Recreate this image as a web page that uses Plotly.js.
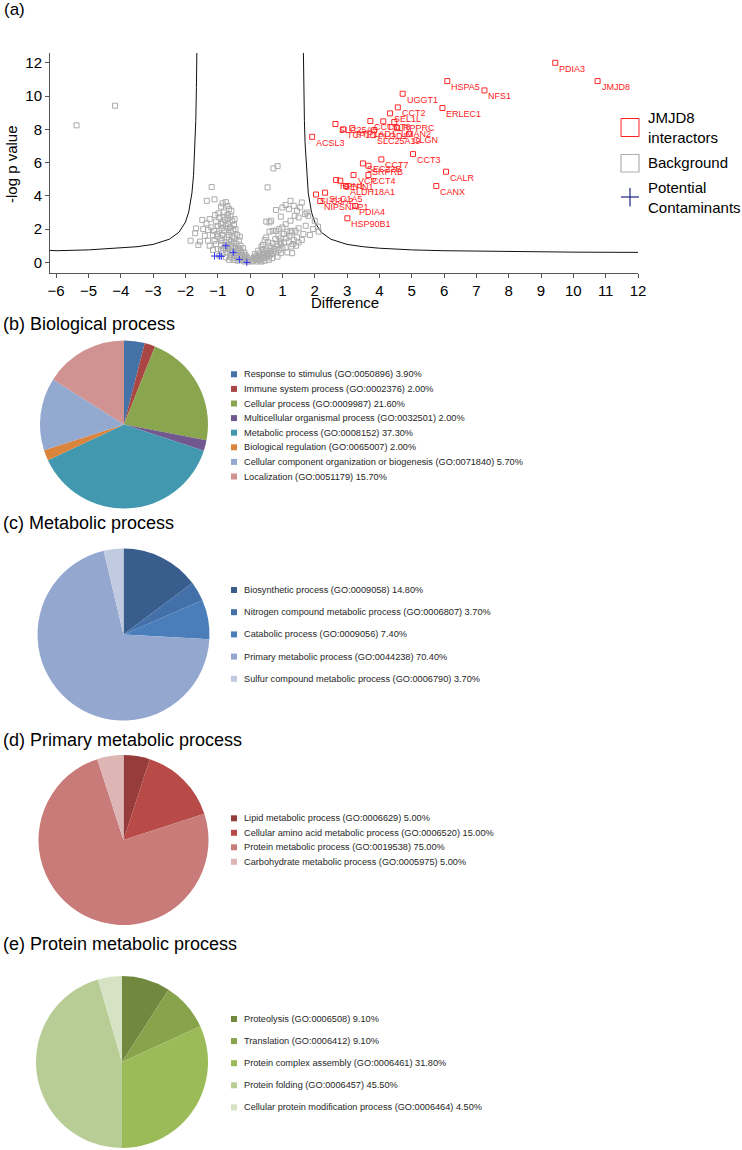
<!DOCTYPE html>
<html><head><meta charset="utf-8">
<script src="https://cdn.plot.ly/plotly-3.0.1.min.js"></script>
<style>html,body{margin:0;padding:0;background:#fff}</style>
</head><body><div id="chart" style="width:742px;height:1150px"></div>
<script>
// ---------- (a) volcano data ----------
const interactorLabels = ["PDIA3","JMJD8","HSPA5","NFS1","UGGT1","CCT2","ERLEC1","SEL1L","SLC25A5","CCT5","CCT8","LRPPRC","TCP1","PTPLAD1","PLOD1","LMAN2","SLC25A19","CLGN","ACSL3","CCT3","CCT7","SEC22B","SRPRB","VCP","CCT4","RPN1","SEPN1","ALDH18A1","CALR","CANX","SLC1A5","SLC3A2","NIPSNAP1","PDIA4","HSP90B1"];
const interactorX = [9.44,10.75,6.10,7.25,4.72,4.57,5.95,4.33,2.64,3.72,4.12,4.46,2.88,3.16,3.84,4.55,3.81,4.92,1.92,5.04,4.06,3.49,3.66,3.20,3.66,2.66,2.79,2.97,6.06,5.76,2.32,2.04,2.17,3.25,3.01];
const interactorY = [12.00,10.90,10.90,10.34,10.14,9.32,9.28,8.96,8.32,8.50,8.48,8.44,8.00,8.07,7.95,8.07,7.65,7.71,7.55,6.51,6.19,5.95,5.81,5.25,5.25,4.95,4.91,4.59,5.45,4.59,4.19,4.08,3.69,3.39,2.65];

const backgroundX = [-5.37,-4.18,0.72,0.85,0.54,-1.19,-1.34,-1.10,
-0.85,-0.75,-0.90,-0.65,-0.80,-0.70,-0.95,-0.60,-0.55,-0.78,-0.90,-1.05,-1.25,-1.35,-1.20,-1.45,-1.67,-1.84,-1.55,-1.25,-1.10,-1.00,-0.85,-0.95,-0.70,-0.60,-0.50,-0.45,-0.40,-0.55,-0.65,-0.75,-0.90,-1.00,-1.15,-1.30,-1.40,-1.05,-0.80,-0.60,-0.50,-0.35,-0.30,-0.45,-0.55,-0.70,-0.85,-0.40,-0.30,-0.25,-0.20,-0.35,-0.50,-0.15,-0.10,-0.05,-0.20,-0.30,-0.12,-0.60,-0.72,-0.62,-0.88,-1.15,-1.60,-0.95,-0.75,-0.62,-0.48,-0.38,-0.28,-0.22,-0.42,-0.52,-0.68,-0.82,-0.58,-0.70,-1.00,-1.12,-0.98,-0.32,-0.18,-0.08,
-1.70,-1.48,-1.30,-0.90,-0.65,-0.55,-0.42,-0.15,-0.35,-0.48,-0.80,-0.58,-0.66,
-0.45,-0.52,-0.38,-0.25,-0.18,-0.30,-0.42,-0.58,-0.68,-0.78,-0.88,-0.72,-0.62,-0.92,-1.02,-0.48,-0.75,-0.85,-0.68,-1.08,
0.05,0.10,0.15,0.20,0.25,0.30,0.35,0.20,0.12,0.40,0.45,0.50,0.55,0.60,0.30,0.25,0.38,0.50,0.62,0.70,0.75,0.80,0.85,0.90,0.95,1.00,1.05,1.10,1.20,1.28,1.35,1.45,1.50,0.40,0.55,0.60,0.70,0.78,0.88,0.95,1.05,1.15,1.25,1.30,1.40,0.60,0.70,0.80,0.50,0.45,0.90,1.00,1.10,1.25,1.38,1.45,1.55,1.60,1.35,1.20,1.10,1.25,1.00,0.95,0.80,0.65,0.60,0.50,1.50,1.70,1.72,1.80,1.75,1.95,2.00,2.10,2.12,1.85,1.65,1.50,0.68,0.85,0.45,0.35,0.58,1.15,0.95,1.30,
0.08,0.18,0.28,0.32,0.42,0.52,0.65,0.72,0.82,0.92,1.12,1.22,1.32,0.15,0.22,1.42,1.60,0.35];
const backgroundY = [8.24,9.42,5.65,5.79,4.51,4.53,3.70,3.79,
3.55,3.62,3.35,3.20,3.00,2.85,2.70,2.75,2.50,2.55,2.30,2.45,2.60,2.35,2.10,2.00,2.04,1.30,1.25,1.00,1.30,1.55,1.65,1.90,2.05,1.85,2.25,2.00,1.65,1.55,1.35,1.20,1.05,0.80,0.75,1.30,1.60,1.10,0.85,0.95,1.20,1.30,1.00,0.85,0.70,0.60,0.55,0.55,0.70,0.45,0.30,0.30,0.40,0.20,0.10,0.05,0.12,0.15,0.35,1.10,1.50,2.10,2.05,1.65,1.05,0.40,0.30,0.35,0.15,0.10,0.60,0.85,1.10,1.90,2.30,2.75,3.10,3.40,2.20,1.90,2.95,1.55,0.60,0.25,
1.75,2.55,1.95,0.70,0.15,0.25,0.40,0.45,0.85,1.45,1.90,1.25,1.65,
0.65,0.95,0.75,0.25,0.05,0.40,0.28,0.55,0.80,1.00,1.30,0.95,0.70,1.45,1.70,2.60,2.20,2.40,2.65,2.85,
0.05,0.10,0.20,0.15,0.30,0.20,0.35,0.40,0.30,0.25,0.45,0.30,0.55,0.40,0.55,0.70,0.80,0.70,0.65,0.50,0.80,0.60,0.95,0.75,1.10,0.85,1.20,0.90,1.25,0.95,1.35,1.50,1.20,1.05,1.20,1.00,1.15,1.40,1.60,1.45,1.70,1.85,1.90,1.80,1.90,1.85,1.90,1.90,1.50,1.35,2.00,2.10,2.30,2.50,2.80,3.10,3.30,3.60,3.40,3.20,3.45,3.70,3.30,2.75,3.15,2.50,2.40,2.45,2.70,2.90,2.20,2.80,3.00,2.00,2.50,2.15,1.85,1.65,1.70,2.05,0.25,0.35,0.10,0.05,0.15,0.60,0.55,0.55,
0.18,0.25,0.42,0.12,0.60,0.50,0.85,0.70,1.10,1.25,1.45,1.60,1.10,0.50,0.05,1.00,1.35,0.95];

const contaminantX = [-1.10,-0.95,-0.89,-0.75,-0.52,-0.33,-0.10];
const contaminantY = [0.38,0.38,0.36,1.00,0.60,0.18,0.00];

const thresholdLeftX = [-6.19,-6.00,-5.00,-4.00,-3.50,-3.00,-2.50,-2.20,-2.00,-1.90,-1.80,-1.75,-1.70,-1.68,-1.66,-1.65,-1.64];
const thresholdLeftY = [0.72,0.70,0.75,0.85,0.94,1.08,1.39,1.81,2.42,3.02,4.16,5.23,7.19,8.52,10.52,11.95,13.85];
const thresholdRightX = [1.64,1.65,1.66,1.68,1.70,1.75,1.80,1.90,2.00,2.20,2.50,3.00,3.50,4.00,5.00,6.00,8.00,10.00,12.00];
const thresholdRightY = [13.85,11.95,10.52,8.52,7.19,5.23,4.16,3.02,2.42,1.81,1.39,1.08,0.94,0.85,0.75,0.70,0.645,0.615,0.60];

const xTickVals = [-6,-5,-4,-3,-2,-1,0,1,2,3,4,5,6,7,8,9,10,11,12];
const yTickVals = [0,2,4,6,8,10,12];
const volcanoLegend = ["JMJD8<br>interactors","Background","Potential<br>Contaminants"];

// ---------- pie data ----------
const bioLabels = ["Response to stimulus (GO:0050896) 3.90%","Immune system process (GO:0002376) 2.00%","Cellular process (GO:0009987) 21.60%","Multicellular organismal process (GO:0032501) 2.00%","Metabolic process (GO:0008152) 37.30%","Biological regulation (GO:0065007) 2.00%","Cellular component organization or biogenesis (GO:0071840) 5.70%","Localization (GO:0051179) 15.70%"];
const bioValues = [3.9,2.0,21.6,2.0,37.3,2.0,13.7,15.7];
const metLabels = ["Biosynthetic process (GO:0009058) 14.80%","Nitrogen compound metabolic process (GO:0006807) 3.70%","Catabolic process (GO:0009056) 7.40%","Primary metabolic process (GO:0044238) 70.40%","Sulfur compound metabolic process (GO:0006790) 3.70%"];
const metValues = [14.8,3.7,7.4,70.4,3.7];
const primLabels = ["Lipid metabolic process (GO:0006629) 5.00%","Cellular amino acid metabolic process (GO:0006520) 15.00%","Protein metabolic process (GO:0019538) 75.00%","Carbohydrate metabolic process (GO:0005975) 5.00%"];
const primValues = [5,15,75,5];
const protLabels = ["Proteolysis (GO:0006508) 9.10%","Translation (GO:0006412) 9.10%","Protein complex assembly (GO:0006461) 31.80%","Protein folding (GO:0006457) 45.50%","Cellular protein modification process (GO:0006464) 4.50%"];
const protValues = [9.1,9.1,31.8,45.5,4.5];

// ---------- styles ----------
const W = 742, H = 1150;
const FONT = "Liberation Sans, Arial, sans-serif";
const px = v => v / W;
const py = v => 1 - v / H;

const bioColors = ["#4572A7","#AA4643","#89A54E","#71588F","#4198AF","#DB843D","#93A9CF","#D19392"];
const metColors = ["#395E8D","#4370A8","#4A7EBB","#94A8CF","#C0CBE1"];
const primColors = ["#963C3A","#B84A47","#C97B7A","#DDB5B4"];
const protColors = ["#71893F","#87A34B","#9BBB59","#B8CD96","#D6E2C4"];

const pies = [
  {title:"(b) Biological process", titleY:324, labels:bioLabels, values:bioValues, colors:bioColors, cx:124, cy:424.5, r:84, legY0:374.3, legStep:14.6},
  {title:"(c) Metabolic process", titleY:523, labels:metLabels, values:metValues, colors:metColors, cx:123.5, cy:634.5, r:86, legY0:590, legStep:22.2},
  {title:"(d) Primary metabolic process", titleY:740, labels:primLabels, values:primValues, colors:primColors, cx:123.5, cy:840, r:85, legY0:818.3, legStep:14.5},
  {title:"(e) Protein metabolic process", titleY:944, labels:protLabels, values:protValues, colors:protColors, cx:122, cy:1062, r:86, legY0:1019, legStep:22.1}
];

const traces = [];
traces.push({type:"scatter", mode:"lines", x:thresholdLeftX, y:thresholdLeftY, line:{color:"#111", width:1}, hoverinfo:"skip", showlegend:false});
traces.push({type:"scatter", mode:"lines", x:thresholdRightX, y:thresholdRightY, line:{color:"#111", width:1}, hoverinfo:"skip", showlegend:false});
traces.push({type:"scatter", mode:"markers", x:backgroundX, y:backgroundY, marker:{symbol:"square-open", size:5, color:"#ababab", line:{width:1}}, showlegend:false});
traces.push({type:"scatter", mode:"markers", x:contaminantX, y:contaminantY, marker:{symbol:"cross-thin-open", size:5, color:"#3333ff", line:{width:1, color:"#3333ff"}}, showlegend:false});
traces.push({type:"scatter", mode:"markers", x:interactorX, y:interactorY, marker:{symbol:"square-open", size:5, color:"#ff2a2a", line:{width:1}}, showlegend:false});

pies.forEach(p => {
  traces.push({type:"pie", values:p.values, labels:p.labels, sort:false, direction:"clockwise", rotation:0,
    marker:{colors:p.colors, line:{width:0}}, textinfo:"none", hoverinfo:"label", showlegend:false,
    domain:{x:[px(p.cx-p.r), px(p.cx+p.r)], y:[py(p.cy+p.r), py(p.cy-p.r)]}});
});

const annotations = [];
const shapes = [];
// point labels
interactorLabels.forEach((lab,i) => {
  annotations.push({x:interactorX[i], y:interactorY[i], xref:"x", yref:"y", text:lab, showarrow:false,
    xanchor:"left", yanchor:"middle", xshift:2, yshift:-6, font:{family:FONT, size:9, color:"#ff2020"}});
});
annotations.push({x:px(2), y:py(10), xref:"paper", yref:"paper", text:"(a)", showarrow:false, xanchor:"left", yanchor:"middle", font:{family:FONT, size:17, color:"#000"}});
annotations.push({x:px(11), y:py(164), xref:"paper", yref:"paper", text:"-log p value", textangle:-90, showarrow:false, xanchor:"center", yanchor:"middle", font:{family:FONT, size:15, color:"#000"}});
annotations.push({x:px(345), y:py(302), xref:"paper", yref:"paper", text:"Difference", showarrow:false, xanchor:"center", yanchor:"middle", font:{family:FONT, size:15, color:"#000"}});

// volcano legend
const legCy = [127, 163, 197];
volcanoLegend.forEach((t,i) => {
  annotations.push({x:px(646), y:py(legCy[i]), xref:"paper", yref:"paper", text:t, showarrow:false, xanchor:"left", yanchor:"middle", align:"left", font:{family:FONT, size:15, color:"#000"}});
});
shapes.push({type:"rect", xref:"paper", yref:"paper", x0:px(621), x1:px(639), y0:py(118.5), y1:py(136.5), line:{color:"#ff2020", width:1}});
shapes.push({type:"rect", xref:"paper", yref:"paper", x0:px(621), x1:px(639), y0:py(154.5), y1:py(172), line:{color:"#b0b0b0", width:1.2}});
shapes.push({type:"line", xref:"paper", yref:"paper", x0:px(621), x1:px(639), y0:py(197), y1:py(197), line:{color:"#1c2580", width:1.2}});
shapes.push({type:"line", xref:"paper", yref:"paper", x0:px(630), x1:px(630), y0:py(188), y1:py(206.5), line:{color:"#1c2580", width:1.2}});

// pie titles & legends
pies.forEach(p => {
  annotations.push({x:px(1), y:py(p.titleY), xref:"paper", yref:"paper", text:p.title, showarrow:false, xanchor:"left", yanchor:"middle", font:{family:FONT, size:18, color:"#000"}});
  p.labels.forEach((lab,i) => {
    const yy = p.legY0 + i*p.legStep;
    shapes.push({type:"rect", xref:"paper", yref:"paper", x0:px(231), x1:px(237), y0:py(yy+3), y1:py(yy-3), fillcolor:p.colors[i], line:{width:0}});
    annotations.push({x:px(242), y:py(yy), xref:"paper", yref:"paper", text:lab, showarrow:false, xanchor:"left", yanchor:"middle", font:{family:FONT, size:9.2, color:"#262626"}});
  });
});

const layout = {
  width:W, height:H, margin:{l:0,r:0,t:0,b:0}, paper_bgcolor:"#fff", plot_bgcolor:"rgba(0,0,0,0)", showlegend:false,
  xaxis:{domain:[px(50), px(638)], range:[-6.19, 12.0], tickvals:xTickVals, ticks:"outside", ticklen:4, tickcolor:"#555",
    showline:true, linecolor:"#555", linewidth:1, showgrid:false, zeroline:false, tickfont:{family:FONT, size:15, color:"#000"}, anchor:"y"},
  yaxis:{domain:[py(273), py(53)], range:[-0.64, 12.59], tickvals:yTickVals, ticks:"outside", ticklen:4, tickcolor:"#555",
    showline:true, linecolor:"#555", linewidth:1, showgrid:false, zeroline:false, tickfont:{family:FONT, size:15, color:"#000"}, anchor:"x"},
  annotations:annotations, shapes:shapes
};
Plotly.newPlot("chart", traces, layout, {staticPlot:true, displayModeBar:false});
</script></body></html>
